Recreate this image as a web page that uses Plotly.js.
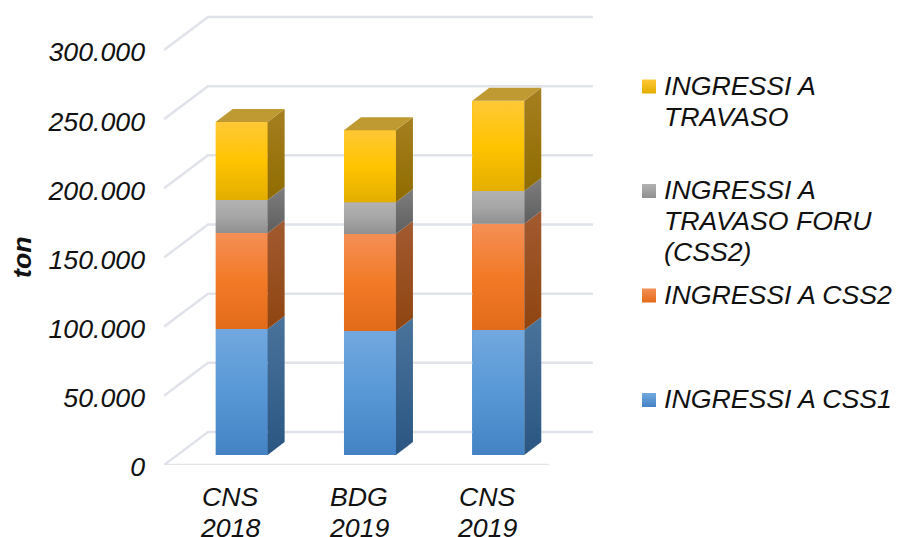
<!DOCTYPE html>
<html>
<head>
<meta charset="utf-8">
<script src="https://cdn.plot.ly/plotly-3.0.1.min.js"></script>
<style>html,body{margin:0;padding:0;background:#fff;overflow:hidden}</style>
</head>
<body>
<div id="chart" style="width:898px;height:537px"></div>
<script>
// Tonnage per scenario, thousands of tons
const categories = [["CNS", "2018"], ["BDG", "2019"], ["CNS", "2019"]];
const css1 = [91.1, 89.6, 90.4];
const css2 = [69.4, 70.1, 76.8];
const foru = [23.9, 23.1, 23.6];
const travaso = [56.4, 52.0, 65.3];
const yTicks = [0, 50, 100, 150, 200, 250, 300];
const yTickLabels = ["0", "50.000", "100.000", "150.000", "200.000", "250.000", "300.000"];
const legendLines = [
  ["INGRESSI A", "TRAVASO"],
  ["INGRESSI A", "TRAVASO FORU", "(CSS2)"],
  ["INGRESSI A CSS2"],
  ["INGRESSI A CSS1"]
];

// Oblique projection used for the pseudo-3D look, in axis units
const WALL_DX = 0.343, WALL_DY = 23.86;   // floor front edge to back wall
const BAR_DX = 0.105, BAR_DY = 7.23;      // floor front edge to bar front
const SIDE_DX = 0.1325, SIDE_DY = 9.4;    // bar front to bar back
const BAR_W = 0.405;

const FONT = "Liberation Sans, Arial, sans-serif";
const TEXT = "#111111";
const FS = 26.7;

const series = [
  {name: "INGRESSI A CSS1", v: css1, base: "#5B9BD5",
   front: [[0, "#4383C4"], [0.5, "#5898D6"], [1, "#72A8DF"]],
   side: [[0, "#2A5682"], [1, "#4A739B"]]},
  {name: "INGRESSI A CSS2", v: css2, base: "#ED7D31",
   front: [[0, "#E26B1A"], [0.5, "#F27A27"], [1, "#F48F55"]],
   side: [[0, "#8F4511"], [1, "#A25A30"]]},
  {name: "INGRESSI A TRAVASO FORU (CSS2)", v: foru, base: "#A5A5A5",
   front: [[0, "#909090"], [0.5, "#A6A6A6"], [1, "#B2B2B2"]],
   side: [[0, "#5E5E5E"], [1, "#7E7E7E"]]},
  {name: "INGRESSI A TRAVASO", v: travaso, base: "#FFC000",
   front: [[0, "#E3AE00"], [0.5, "#FFC400"], [1, "#FFC836"]],
   side: [[0, "#8F6C00"], [1, "#A67F20"]]}
];

const traces = [];
const idx = categories.map((_, i) => i);
const xLeft = -0.5, xRight = 2.5;

// Back wall and left wall grid, plus the floor edge
const gx = [], gy = [];
yTicks.forEach(t => {
  gx.push(xLeft, xLeft + WALL_DX, xRight + WALL_DX, null);
  gy.push(t, t + WALL_DY, t + WALL_DY, null);
});
gx.push(xLeft, xRight, null);
gy.push(0, 0, null);
traces.push({type: "scatter", mode: "lines", x: gx, y: gy, hoverinfo: "skip",
  showlegend: false, line: {color: "#E0E3EA", width: 2.5}});

// Front faces from the stacked values
let running = idx.map(() => 0);
const segments = series.map(s => {
  const lo = running.slice();
  running = running.map((r, i) => r + s.v[i]);
  return {s, lo, hi: running.slice()};
});

segments.forEach(({s, lo}) => {
  traces.push({type: "bar", name: s.name, x: idx.map(i => i + BAR_DX), y: s.v,
    base: lo.map(l => l + BAR_DY), width: BAR_W,
    marker: {color: s.base, line: {width: 0}}, showlegend: false});
});

function polygon(xs, ys, stops) {
  return {type: "scatter", mode: "lines", x: xs, y: ys, fill: "toself", hoverinfo: "skip",
    line: {width: 0}, showlegend: false,
    fillgradient: {type: "vertical", colorscale: stops}};
}

segments.forEach(({s, lo, hi}) => {
  idx.forEach(i => {
    const xl = i + BAR_DX - BAR_W / 2, xr = xl + BAR_W;
    const y0 = lo[i] + BAR_DY, y1 = hi[i] + BAR_DY;
    // gradient on the front face
    traces.push(polygon([xl, xr, xr, xl, xl], [y0, y0, y1, y1, y0], s.front));
    // right-hand side face
    traces.push(polygon([xr, xr + SIDE_DX, xr + SIDE_DX, xr, xr],
      [y0, y0 + SIDE_DY, y1 + SIDE_DY, y1, y0], s.side));
  });
});

// Lid of the top segment
const lidSegment = segments[segments.length - 1];
idx.forEach(i => {
  const xl = i + BAR_DX - BAR_W / 2, xr = xl + BAR_W, y1 = lidSegment.hi[i] + BAR_DY;
  traces.push(polygon([xl, xr, xr + SIDE_DX, xl + SIDE_DX, xl],
    [y1, y1, y1 + SIDE_DY, y1 + SIDE_DY, y1],
    [[0, "#BF9A33"], [1, "#BF9A33"]]));
});

// Legend swatches on a full-page axis pair, in page fractions
const W = 898, H = 537;
const swatchY = [86.5, 191, 295.5, 400];
const swatchOrder = [3, 2, 1, 0];
swatchOrder.forEach((k, n) => {
  const s = series[k];
  traces.push({type: "scatter", mode: "markers", xaxis: "x2", yaxis: "y2",
    x: [649 / W], y: [1 - swatchY[n] / H], hoverinfo: "skip", showlegend: false,
    marker: {symbol: "square", size: 14, color: s.front[2][1], line: {width: 0},
      gradient: {type: "vertical", color: s.front[0][1]}}});
});

const annotations = [];
legendLines.forEach((lines, n) => {
  lines.forEach((text, j) => {
    annotations.push({xref: "paper", yref: "paper", xanchor: "left", yanchor: "middle",
      x: 661.5 / W, y: 1 - (swatchY[n] - 0.7 + j * 31) / H,
      text: "<i>" + text + "</i>", showarrow: false, align: "left",
      font: {family: FONT, size: FS, color: TEXT}});
  });
});
// Category labels, two tight lines under each stack
categories.forEach((lines, i) => {
  lines.forEach((text, j) => {
    annotations.push({xref: "x", yref: "paper", xanchor: "center", yanchor: "middle",
      x: i + 0.02, y: 1 - (497 + j * 30.5) / H, text: "<i>" + text + "</i>", showarrow: false,
      font: {family: FONT, size: FS, color: TEXT}});
  });
});
annotations.push({xref: "paper", yref: "paper", x: 22 / W, y: 1 - 257 / H,
  xanchor: "center", yanchor: "middle", textangle: -90, showarrow: false,
  text: "<b><i>ton</i></b>", font: {family: FONT, size: FS, color: TEXT}});

const layout = {
  width: W, height: H,
  margin: {l: 0, r: 0, t: 0, b: 0, pad: 0},
  paper_bgcolor: "#ffffff", plot_bgcolor: "rgba(0,0,0,0)",
  showlegend: false, barmode: "overlay", bargap: 0,
  annotations,
  font: {family: FONT, size: FS, color: TEXT},
  xaxis: {
    domain: [164 / W, 593 / W], anchor: "y",
    range: [xLeft, xRight + WALL_DX], tickmode: "array", tickvals: idx, showticklabels: false,
    showgrid: false, zeroline: false, showline: false, ticks: "", automargin: false
  },
  yaxis: {
    domain: [1 - 465 / H, 1 - 12 / H], anchor: "x",
    range: [0, 327.47], tickmode: "array", tickvals: yTicks,
    ticktext: yTickLabels.map(t => "<i>" + t + "</i>"),
    showgrid: false, zeroline: false, showline: false, ticks: "",
    ticklabelstandoff: 18, ticklabelshift: 2,
    tickfont: {family: FONT, size: FS, color: TEXT}, automargin: false
  },
  xaxis2: {domain: [0, 1], anchor: "y2", range: [0, 1], visible: false},
  yaxis2: {domain: [0, 1], anchor: "x2", range: [0, 1], visible: false}
};

Plotly.newPlot("chart", traces, layout, {displayModeBar: false, staticPlot: true});
</script>
</body>
</html>
